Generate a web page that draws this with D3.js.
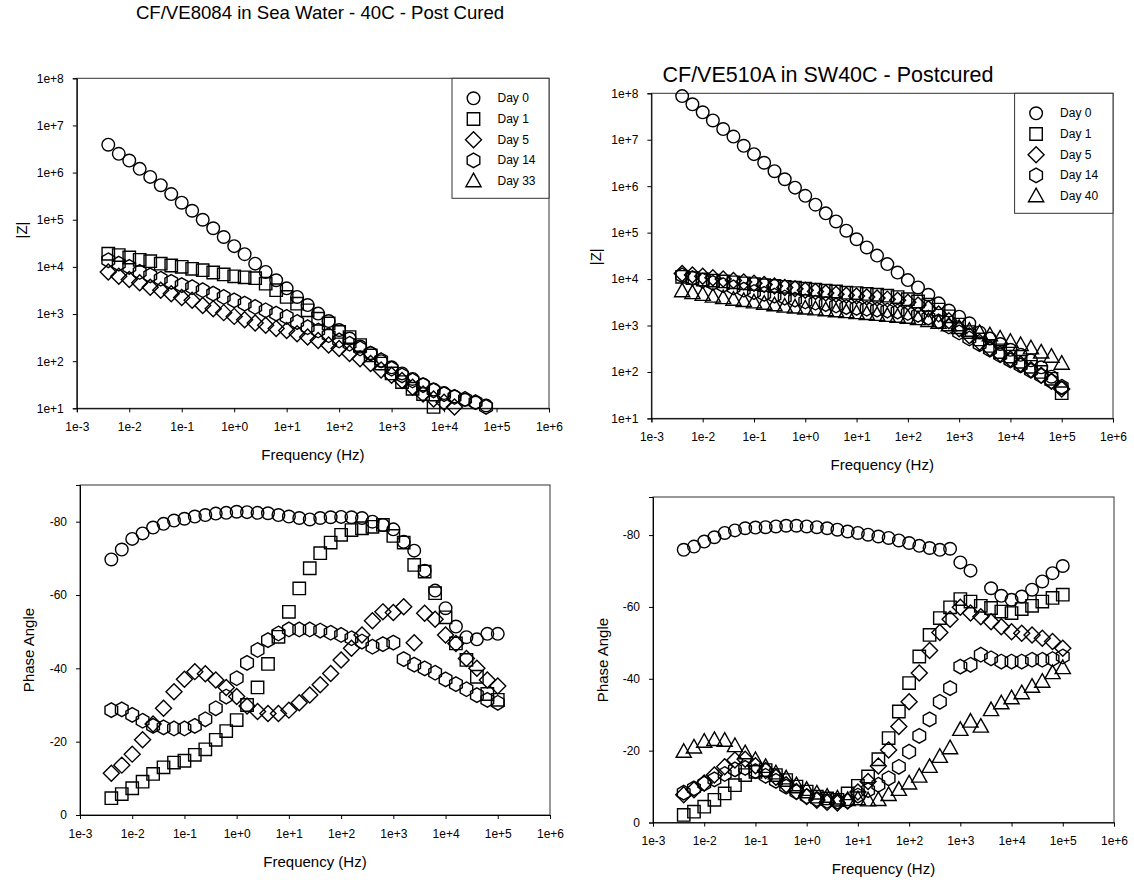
<!DOCTYPE html>
<html>
<head>
<meta charset="utf-8">
<script src="https://cdn.jsdelivr.net/npm/d3@7"></script>
<style>
  html, body { margin: 0; padding: 0; background: #fff; }
  svg { display: block; font-family: "Liberation Sans", Arial, Helvetica, sans-serif; }
</style>
</head>
<body>
<svg id="chart" width="1134" height="880"></svg>
<script>
// Sweep frequencies (Hz), 5 points per decade, 4 mHz to 100 kHz
const freq = [0.00398, 0.00631, 0.01, 0.0158, 0.0251, 0.0398, 0.0631, 0.1, 0.158, 0.251,
  0.398, 0.631, 1, 1.58, 2.51, 3.98, 6.31, 10, 15.8, 25.1,
  39.8, 63.1, 100, 158, 251, 398, 631, 1000, 1580, 2510,
  3980, 6310, 10000, 15800, 25100, 39800, 63100, 100000];

const xTickLabels = ["1e-3", "1e-2", "1e-1", "1e+0", "1e+1", "1e+2", "1e+3", "1e+4", "1e+5", "1e+6"];
const zTickLabels = ["1e+1", "1e+2", "1e+3", "1e+4", "1e+5", "1e+6", "1e+7", "1e+8"];
const phaseTicks = [0, -20, -40, -60, -80];

const days8084 = ["Day 0", "Day 1", "Day 5", "Day 14", "Day 33"];
const days510 = ["Day 0", "Day 1", "Day 5", "Day 14", "Day 40"];
const shapes = ["circle", "square", "diamond", "hexagon", "triangle"];

// ---- CF/VE8084, |Z| (ohm) ----
const z8084Day0 = [3.9e6, 2.5e6, 1.8e6, 1.2e6, 8.1e5, 5.4e5, 3.5e5, 2.3e5, 1.55e5, 1.0e5,
  6.6e4, 4.3e4, 2.75e4, 1.86e4, 1.17e4, 7.8e3, 5.2e3, 3.5e3, 2.3e3, 1.55e3,
  1.02e3, 710, 457, 302, 204, 148, 100, 74, 55, 42, 32, 25, 21, 17.8, 15.1, 13.2, 11.5];
const z8084Day1 = [1.9e4, 1.78e4, 1.58e4, 1.41e4, 1.32e4, 1.17e4, 1.07e4, 1.0e4, 9.1e3, 8.5e3,
  7.6e3, 6.9e3, 6.3e3, 6.0e3, 5.75e3, 4.4e3, 3.2e3, 2.3e3, 1.66e3, 1.2e3,
  794, 631, 417, 324, 219, 132, 89, 55, 36, 26, 20, 10.7];
const z8084Day5 = [7.8e3, 6.3e3, 5.4e3, 4.6e3, 3.7e3, 3.2e3, 2.7e3, 2.24e3, 1.95e3, 1.51e3,
  1.29e3, 1.07e3, 891, 759, 646, 575, 490, 447, 380, 324,
  275, 219, 186, 145, 112, 89, 65, 50, 39, 28, 20, 15.8, 13.5, 10.7];
const z8084Day14 = [1.38e4, 1.17e4, 1.0e4, 7.8e3, 6.6e3, 5.6e3, 4.8e3, 4.1e3, 3.7e3, 3.2e3,
  2.7e3, 2.3e3, 1.95e3, 1.66e3, 1.41e3, 1.2e3, 1.02e3, 871, 676, 525,
  447, 355, 275, 234, 186, 145, 105, 69, 50, 39, 31, 24, 20, 17.4, 15.8, 13.5, 10.7];
const z8084Day33 = [];

// ---- CF/VE510A, |Z| (ohm) ----
const z510Day0 = [8.7e7, 5.8e7, 3.9e7, 2.6e7, 1.7e7, 1.17e7, 7.4e6, 4.9e6, 3.2e6, 2.1e6,
  1.41e6, 9.3e5, 6.2e5, 4.0e5, 2.6e5, 1.74e5, 1.1e5, 7.2e4, 4.8e4, 3.2e4,
  2.1e4, 1.38e4, 9.5e3, 6.6e3, 4.6e3, 3.0e3, 2.1e3, 1.55e3, 1.12e3, 710,
  525, 400, 300, 234, 178, 126, 79, 45];
const z510Day1 = [1.12e4, 1.05e4, 9.8e3, 9.3e3, 8.9e3, 8.5e3, 8.1e3, 7.8e3, 7.4e3, 7.1e3,
  6.8e3, 6.5e3, 6.2e3, 5.9e3, 5.6e3, 5.4e3, 5.1e3, 5.0e3, 4.8e3, 4.6e3,
  4.4e3, 4.1e3, 3.7e3, 3.3e3, 2.8e3, 2.2e3, 1.58e3, 1.05e3, 724, 501,
  363, 269, 214, 166, 129, 100, 71, 35];
const z510Day5 = [1.32e4, 1.23e4, 1.15e4, 1.07e4, 1.0e4, 9.3e3, 8.7e3, 8.1e3, 7.6e3, 7.1e3,
  6.6e3, 6.2e3, 5.75e3, 5.4e3, 5.0e3, 4.7e3, 4.5e3, 4.3e3, 4.1e3, 3.9e3,
  3.7e3, 3.5e3, 3.16e3, 2.75e3, 2.3e3, 1.78e3, 1.26e3, 851, 603, 437,
  324, 245, 191, 148, 112, 85, 63, 43];
const z510Day14 = [1.2e4, 1.05e4, 9.3e3, 8.3e3, 7.4e3, 6.6e3, 5.9e3, 5.25e3, 4.8e3, 4.4e3,
  4.0e3, 3.6e3, 3.3e3, 3.1e3, 2.9e3, 2.7e3, 2.5e3, 2.4e3, 2.3e3, 2.2e3,
  2.1e3, 2.0e3, 1.86e3, 1.7e3, 1.48e3, 1.23e3, 955, 708, 525, 398,
  302, 229, 178, 138, 107, 83, 63, 48];
const z510Day40 = [5.5e3, 5.0e3, 4.6e3, 4.2e3, 3.9e3, 3.6e3, 3.4e3, 3.16e3, 2.95e3, 2.75e3,
  2.57e3, 2.45e3, 2.34e3, 2.24e3, 2.14e3, 2.04e3, 1.95e3, 1.86e3, 1.78e3, 1.7e3,
  1.62e3, 1.55e3, 1.48e3, 1.38e3, 1.26e3, 1.15e3, 1.02e3, 891, 776, 692,
  617, 525, 447, 380, 324, 263, 214, 151];

// ---- CF/VE8084, phase angle (deg) ----
const p8084Day0 = [-69.7, -72.4, -75.3, -76.8, -78.4, -79.4, -80.3, -80.8, -81.4, -81.8,
  -82.2, -82.4, -82.7, -82.6, -82.4, -82.3, -81.8, -81.4, -81.0, -80.6,
  -81.0, -81.2, -81.3, -81.2, -81.0, -80.0, -79.1, -77.9, -74.5, -72.1,
  -66.6, -61.2, -56.4, -51.4, -48.5, -47.9, -49.4, -49.4];
const p8084Day1 = [-4.6, -5.7, -7.3, -9.1, -11.2, -13.0, -14.3, -14.8, -16.4, -17.9,
  -20.5, -22.9, -25.9, -30.0, -34.8, -41.2, -48.6, -55.4, -61.8, -67.3,
  -71.4, -74.3, -76.4, -77.7, -78.2, -78.6, -79.1, -76.1, -74.3, -68.2,
  -66.4, -60.5, -53.9, -46.8, -42.3, -37.7, -33.0, -31.4];
const p8084Day5 = [-11.4, -13.6, -16.6, -20.5, -24.8, -29.1, -33.6, -37.0, -39.1, -38.5,
  -36.8, -34.8, -32.3, -29.7, -28.2, -27.7, -27.7, -28.6, -30.6, -32.7,
  -35.5, -38.6, -42.3, -45.5, -49.1, -53.0, -55.4, -55.2, -56.8, -47.0,
  -55.0, -53.4, -49.1, -46.8, -42.7, -40.0, -36.8, -35.2];
const p8084Day14 = [-28.6, -28.8, -27.3, -25.7, -24.3, -23.9, -23.6, -23.6, -24.3, -26.1,
  -29.1, -32.3, -37.3, -41.5, -45.0, -47.7, -49.5, -50.6, -50.6, -50.6,
  -50.3, -49.7, -49.1, -48.2, -47.3, -45.9, -46.6, -47.0, -42.5, -41.0,
  -40.0, -38.8, -37.0, -35.7, -34.3, -32.7, -31.4, -30.6];
const p8084Day33 = [];

// ---- CF/VE510A, phase angle (deg) ----
const p510Day0 = [-75.9, -76.8, -78.2, -79.4, -80.6, -81.3, -81.9, -82.1, -82.2, -82.4,
  -82.6, -82.6, -82.4, -82.2, -81.9, -81.5, -81.0, -80.6, -80.1, -79.6,
  -79.2, -78.5, -77.8, -77.0, -76.4, -75.9, -76.2, -72.4, -70.1, null,
  -65.2, -63.1, -62.0, -62.9, -64.8, -67.1, -69.4, -71.4];
const p510Day1 = [-2.1, -3.0, -4.4, -6.3, -8.1, -10.4, -13.2, -14.1, -14.6, -13.2,
  -11.8, -10.0, -8.6, -7.2, -6.7, -6.3, -8.1, -10.2, -12.8, -17.6,
  -23.5, -30.9, -38.8, -46.2, -52.2, -56.9, -59.9, -62.2, -61.5, -60.3,
  -59.7, -58.7, -58.3, -59.4, -60.3, -61.5, -62.5, -63.4];
const p510Day5 = [-7.7, -9.1, -11.0, -13.2, -15.5, -17.4, -17.6, -15.8, -14.5, -12.6,
  -10.5, -8.6, -7.2, -6.2, -5.6, -5.4, -6.0, -8.5, -11.4, -15.7,
  -20.2, -26.7, -33.6, -41.6, -47.9, -52.9, -56.6, -59.9, -58.3, -57.3,
  -55.9, -54.5, -53.1, -52.7, -52.2, -51.3, -50.4, -48.5];
const p510Day14 = [-8.3, -9.5, -10.8, -12.0, -13.5, -14.8, -15.2, -14.3, -13.0, -11.6,
  -10.0, -8.5, -7.3, -6.5, -6.0, -5.8, -6.0, -7.5, -9.0, -10.5,
  -12.3, -15.5, -19.7, -24.1, -28.7, -33.6, -37.4, -43.4, -43.9, -46.7,
  -45.7, -44.8, -44.8, -44.8, -45.3, -45.3, -45.5, -46.2];
const p510Day40 = [-19.7, -20.9, -22.5, -23.0, -22.8, -21.3, -19.3, -17.4, -15.5, -13.7,
  -12.3, -10.4, -9.1, -8.1, -7.2, -6.7, -6.3, -6.5, -6.2, -6.3,
  -7.7, -9.1, -10.9, -12.8, -15.5, -18.3, -20.7, -25.8, -28.1, -26.7,
  -31.3, -33.2, -34.6, -36.0, -37.8, -39.2, -41.6, -43.0];

// ---------------- layout ----------------
const panels = [
  { kind: "z", box: [76.8, 78.3, 549, 408.3], series: [z8084Day0, z8084Day1, z8084Day5, z8084Day14, z8084Day33],
    names: days8084, legend: [452, 78.3, 549, 198.3], yTitle: "|Z|", yTitlePos: [21.4, 230] },
  { kind: "z", box: [651.4, 93.3, 1113, 418.4], series: [z510Day0, z510Day1, z510Day5, z510Day14, z510Day40],
    names: days510, legend: [1014.6, 93.3, 1113, 213.3], yTitle: "|Z|", yTitlePos: [595, 256.7] },
  { kind: "phase", box: [80, 485, 550, 815], top: -90, series: [p8084Day0, p8084Day1, p8084Day5, p8084Day14, p8084Day33],
    yTitle: "Phase Angle", yTitlePos: [28.6, 650] },
  { kind: "phase", box: [653, 497, 1114, 822.5], top: -90.6, series: [p510Day0, p510Day1, p510Day5, p510Day14, p510Day40],
    yTitle: "Phase Angle", yTitlePos: [602.9, 660] }
];

function markerPath(shape) {
  switch (shape) {
    case "circle": {
      const p = d3.path(); p.arc(0, 0, 6.3, 0, 2 * Math.PI); p.closePath(); return p.toString();
    }
    case "square": return "M-6.2,-6.2H6.2V6.2H-6.2Z";
    case "diamond": return "M0,-8L8,0L0,8L-8,0Z";
    case "hexagon": {
      const r = 7.3;
      return d3.line()(d3.range(6).map(k => {
        const a = -Math.PI / 2 + k * Math.PI / 3;
        return [r * Math.cos(a), r * Math.sin(a)];
      })) + "Z";
    }
    case "triangle": return "M0,-8L7.6,5.6H-7.6Z";
  }
}

const svg = d3.select("#chart");

// chart titles
svg.append("text").attr("x", 320).attr("y", 19).attr("text-anchor", "middle")
  .attr("font-size", 18.6).attr("fill", "#000").text("CF/VE8084 in Sea Water - 40C - Post Cured");
svg.append("text").attr("x", 828).attr("y", 81.5).attr("text-anchor", "middle")
  .attr("font-size", 21.5).attr("fill", "#000").text("CF/VE510A in SW40C - Postcured");

const xTickValues = xTickLabels.map(Number);
const zTickValues = zTickLabels.map(Number);

panels.forEach(p => {
  const [x0, y0, x1, y1] = p.box;
  const x = d3.scaleLog().domain([xTickValues[0], xTickValues[xTickValues.length - 1]]).range([x0, x1]);
  const y = p.kind === "z"
    ? d3.scaleLog().domain([zTickValues[0], zTickValues[zTickValues.length - 1]]).range([y1, y0])
    : d3.scaleLinear().domain([0, p.top]).range([y1, y0]);

  const g = svg.append("g");

  // plot frame
  g.append("rect").attr("x", x0).attr("y", y0).attr("width", x1 - x0).attr("height", y1 - y0)
    .attr("fill", "none").attr("stroke", "#333").attr("stroke-width", 1);

  // axes
  const xAxis = d3.axisBottom(x).tickValues(xTickValues)
    .tickFormat((d, i) => xTickLabels[i]).tickSize(4).tickPadding(10);
  const gx = g.append("g").attr("transform", `translate(0,${y1})`).call(xAxis);

  const yAxis = p.kind === "z"
    ? d3.axisLeft(y).tickValues(zTickValues).tickFormat((d, i) => zTickLabels[i])
    : d3.axisLeft(y).tickValues(phaseTicks).tickFormat(d => String(d));
  const gy = g.append("g").attr("transform", `translate(${x0},0)`).call(yAxis.tickSize(4).tickPadding(9));

  [gx, gy].forEach(a => {
    a.attr("font-family", null).attr("font-size", 12);
    a.select(".domain").attr("stroke", "#000");
    a.selectAll(".tick line").attr("stroke", "#000");
    a.selectAll(".tick text").attr("fill", "#000");
  });

  // axis titles
  g.append("text").attr("x", (x0 + x1) / 2).attr("y", y1 + 46).attr("text-anchor", "middle")
    .attr("dominant-baseline", "central").attr("font-size", 15).text("Frequency (Hz)");
  g.append("text").attr("transform", `translate(${p.yTitlePos[0]},${p.yTitlePos[1]}) rotate(-90)`)
    .attr("text-anchor", "middle").attr("dominant-baseline", "central").attr("font-size", 15).text(p.yTitle);

  // data markers
  p.series.forEach((vals, k) => {
    const pts = vals.map((v, i) => ({ f: freq[i], v })).filter(d => d.v != null);
    g.append("g").selectAll("path").data(pts).join("path")
      .attr("d", markerPath(shapes[k]))
      .attr("transform", d => `translate(${x(d.f)},${y(d.v)})`)
      .attr("fill", "none").attr("stroke", "#000").attr("stroke-width", 1.4);
  });

  // legend
  if (p.legend) {
    const [lx0, ly0, lx1, ly1] = p.legend;
    const lg = g.append("g");
    lg.append("rect").attr("x", lx0).attr("y", ly0).attr("width", lx1 - lx0).attr("height", ly1 - ly0)
      .attr("fill", "#fff").attr("stroke", "#333").attr("stroke-width", 1);
    p.names.forEach((name, k) => {
      const cy = ly0 + 20 + k * 20.7;
      lg.append("path").attr("d", markerPath(shapes[k]))
        .attr("transform", `translate(${lx0 + 21.5},${cy})`)
        .attr("fill", "none").attr("stroke", "#000").attr("stroke-width", 1.4);
      lg.append("text").attr("x", lx0 + 45.5).attr("y", cy).attr("dominant-baseline", "central")
        .attr("font-size", 12).text(name);
    });
  }
});
</script>
</body>
</html>
